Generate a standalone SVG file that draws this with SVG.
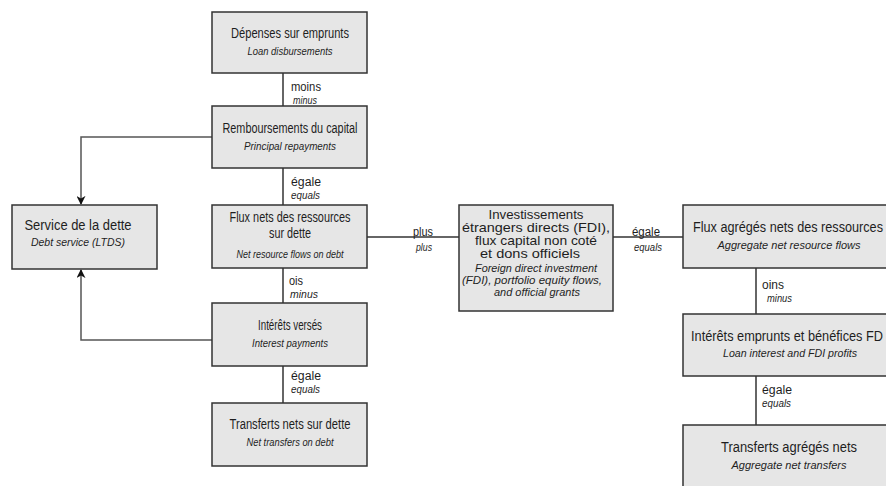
<svg xmlns="http://www.w3.org/2000/svg" width="886" height="486" viewBox="0 0 886 486">
<style>
text{font-family:"Liberation Sans",Arial,sans-serif;fill:#1e1e1e}
.box{fill:#e6e6e6;stroke:#333;stroke-width:1.5}
.t{font-size:14px;text-anchor:middle}
.f{font-size:13px;text-anchor:middle}
.s{font-size:11px;font-style:italic;text-anchor:middle}
.fs{font-size:10.5px;font-style:italic;text-anchor:middle}
.l{font-size:12.5px}
.li{font-size:10px;font-style:italic}
.c{fill:none;stroke:#333;stroke-width:1.5}
.a{fill:none;stroke:#555;stroke-width:1.5}
</style>
<defs>
<marker id="ah" viewBox="0 0 10 10" refX="9" refY="5" markerWidth="9" markerHeight="9" markerUnits="userSpaceOnUse" orient="auto">
<path d="M0,0 L10,5 L0,10 L3,5 Z" fill="#111"/>
</marker>
</defs>
<g id="connectors">
<line class="c" x1="283" y1="73" x2="283" y2="106"/>
<line class="c" x1="283" y1="168" x2="283" y2="205"/>
<line class="c" x1="283" y1="268" x2="283" y2="303"/>
<line class="c" x1="283" y1="366" x2="283" y2="403"/>
<line class="c" x1="367" y1="237" x2="459" y2="237"/>
<line class="c" x1="613" y1="237" x2="683" y2="237"/>
<line class="c" x1="756" y1="268" x2="756" y2="314"/>
<line class="c" x1="756" y1="376" x2="756" y2="425"/>
<polyline class="a" points="212,137 81,137 81,204" marker-end="url(#ah)"/>
<polyline class="a" points="212,340 81,340 81,270" marker-end="url(#ah)"/>
<text class="l" x="291" y="91" textLength="30" lengthAdjust="spacingAndGlyphs">moins</text>
<text class="li" x="293" y="104" textLength="24" lengthAdjust="spacingAndGlyphs">minus</text>
<text class="l" x="291" y="186" textLength="30" lengthAdjust="spacingAndGlyphs">égale</text>
<text class="li" x="291" y="199" textLength="29" lengthAdjust="spacingAndGlyphs">equals</text>
<text class="l" x="289" y="285" textLength="14" lengthAdjust="spacingAndGlyphs">ois</text>
<text class="li" x="290" y="298" textLength="28" lengthAdjust="spacingAndGlyphs">minus</text>
<text class="l" x="291" y="380" textLength="30" lengthAdjust="spacingAndGlyphs">égale</text>
<text class="li" x="291" y="393" textLength="29" lengthAdjust="spacingAndGlyphs">equals</text>
<text class="l" x="413" y="236" textLength="20" lengthAdjust="spacingAndGlyphs">plus</text>
<text class="li" x="416" y="251" textLength="16" lengthAdjust="spacingAndGlyphs">plus</text>
<text class="l" x="632" y="236" textLength="28" lengthAdjust="spacingAndGlyphs">égale</text>
<text class="li" x="634" y="251" textLength="28" lengthAdjust="spacingAndGlyphs">equals</text>
<text class="l" x="762" y="289" textLength="22" lengthAdjust="spacingAndGlyphs">oins</text>
<text class="li" x="767" y="302" textLength="25" lengthAdjust="spacingAndGlyphs">minus</text>
<text class="l" x="762" y="394" textLength="30" lengthAdjust="spacingAndGlyphs">égale</text>
<text class="li" x="762" y="407" textLength="29" lengthAdjust="spacingAndGlyphs">equals</text>
</g>
<g id="n1">
<rect class="box" x="212" y="12" width="155" height="61"/>
<text class="t" x="290" y="38" textLength="118" lengthAdjust="spacingAndGlyphs">Dépenses sur emprunts</text>
<text class="s" x="290" y="55" textLength="85" lengthAdjust="spacingAndGlyphs">Loan disbursements</text>
</g>
<g id="n2">
<rect class="box" x="212" y="106" width="155" height="62"/>
<text class="t" x="290" y="133" textLength="135" lengthAdjust="spacingAndGlyphs">Remboursements du capital</text>
<text class="s" x="290" y="150" textLength="92" lengthAdjust="spacingAndGlyphs">Principal repayments</text>
</g>
<g id="n3">
<rect class="box" x="212" y="205" width="155" height="63"/>
<text class="t" x="290" y="222" textLength="121" lengthAdjust="spacingAndGlyphs">Flux nets des ressources</text>
<text class="t" x="290" y="238" textLength="42" lengthAdjust="spacingAndGlyphs">sur dette</text>
<text class="s" x="290" y="258" textLength="107" lengthAdjust="spacingAndGlyphs">Net resource flows on debt</text>
</g>
<g id="n4">
<rect class="box" x="212" y="303" width="155" height="63"/>
<text class="t" x="290" y="330" textLength="64" lengthAdjust="spacingAndGlyphs">Intérêts versés</text>
<text class="s" x="290" y="347" textLength="76" lengthAdjust="spacingAndGlyphs">Interest payments</text>
</g>
<g id="n5">
<rect class="box" x="212" y="403" width="155" height="63"/>
<text class="t" x="290" y="429" textLength="121" lengthAdjust="spacingAndGlyphs">Transferts nets sur dette</text>
<text class="s" x="290" y="446" textLength="87" lengthAdjust="spacingAndGlyphs">Net transfers on debt</text>
</g>
<g id="service">
<rect class="box" x="12" y="205" width="145" height="64"/>
<text class="t" x="78" y="230" textLength="107" lengthAdjust="spacingAndGlyphs">Service de la dette</text>
<text class="s" x="78" y="246" textLength="94" lengthAdjust="spacingAndGlyphs">Debt service (LTDS)</text>
</g>
<g id="fdi">
<rect class="box" x="459" y="205" width="154" height="106"/>
<text class="f" x="536" y="219" textLength="95" lengthAdjust="spacingAndGlyphs">Investissements</text>
<text class="f" x="536" y="232" textLength="148" lengthAdjust="spacingAndGlyphs">étrangers directs (FDI),</text>
<text class="f" x="536" y="245" textLength="122" lengthAdjust="spacingAndGlyphs">flux capital non coté</text>
<text class="f" x="530" y="258" textLength="100" lengthAdjust="spacingAndGlyphs">et dons officiels</text>
<text class="fs" x="536" y="272" textLength="122" lengthAdjust="spacingAndGlyphs">Foreign direct investment</text>
<text class="fs" x="532" y="284" textLength="140" lengthAdjust="spacingAndGlyphs">(FDI), portfolio equity flows,</text>
<text class="fs" x="537" y="296" textLength="86" lengthAdjust="spacingAndGlyphs">and official grants</text>
</g>
<g id="r1">
<rect class="box" x="683" y="205" width="213" height="63"/>
<text class="t" x="788" y="232" textLength="190" lengthAdjust="spacingAndGlyphs">Flux agrégés nets des ressources</text>
<text class="s" x="789" y="249" textLength="143" lengthAdjust="spacingAndGlyphs">Aggregate net resource flows</text>
</g>
<g id="r2">
<rect class="box" x="683" y="314" width="213" height="62"/>
<text class="t" x="787" y="341" textLength="192" lengthAdjust="spacingAndGlyphs">Intérêts emprunts et bénéfices FD</text>
<text class="s" x="790" y="357" textLength="134" lengthAdjust="spacingAndGlyphs">Loan interest and FDI profits</text>
</g>
<g id="r3">
<rect class="box" x="683" y="425" width="213" height="70"/>
<text class="t" x="789" y="452" textLength="136" lengthAdjust="spacingAndGlyphs">Transferts agrégés nets</text>
<text class="s" x="789" y="469" textLength="115" lengthAdjust="spacingAndGlyphs">Aggregate net transfers</text>
</g>
</svg>
